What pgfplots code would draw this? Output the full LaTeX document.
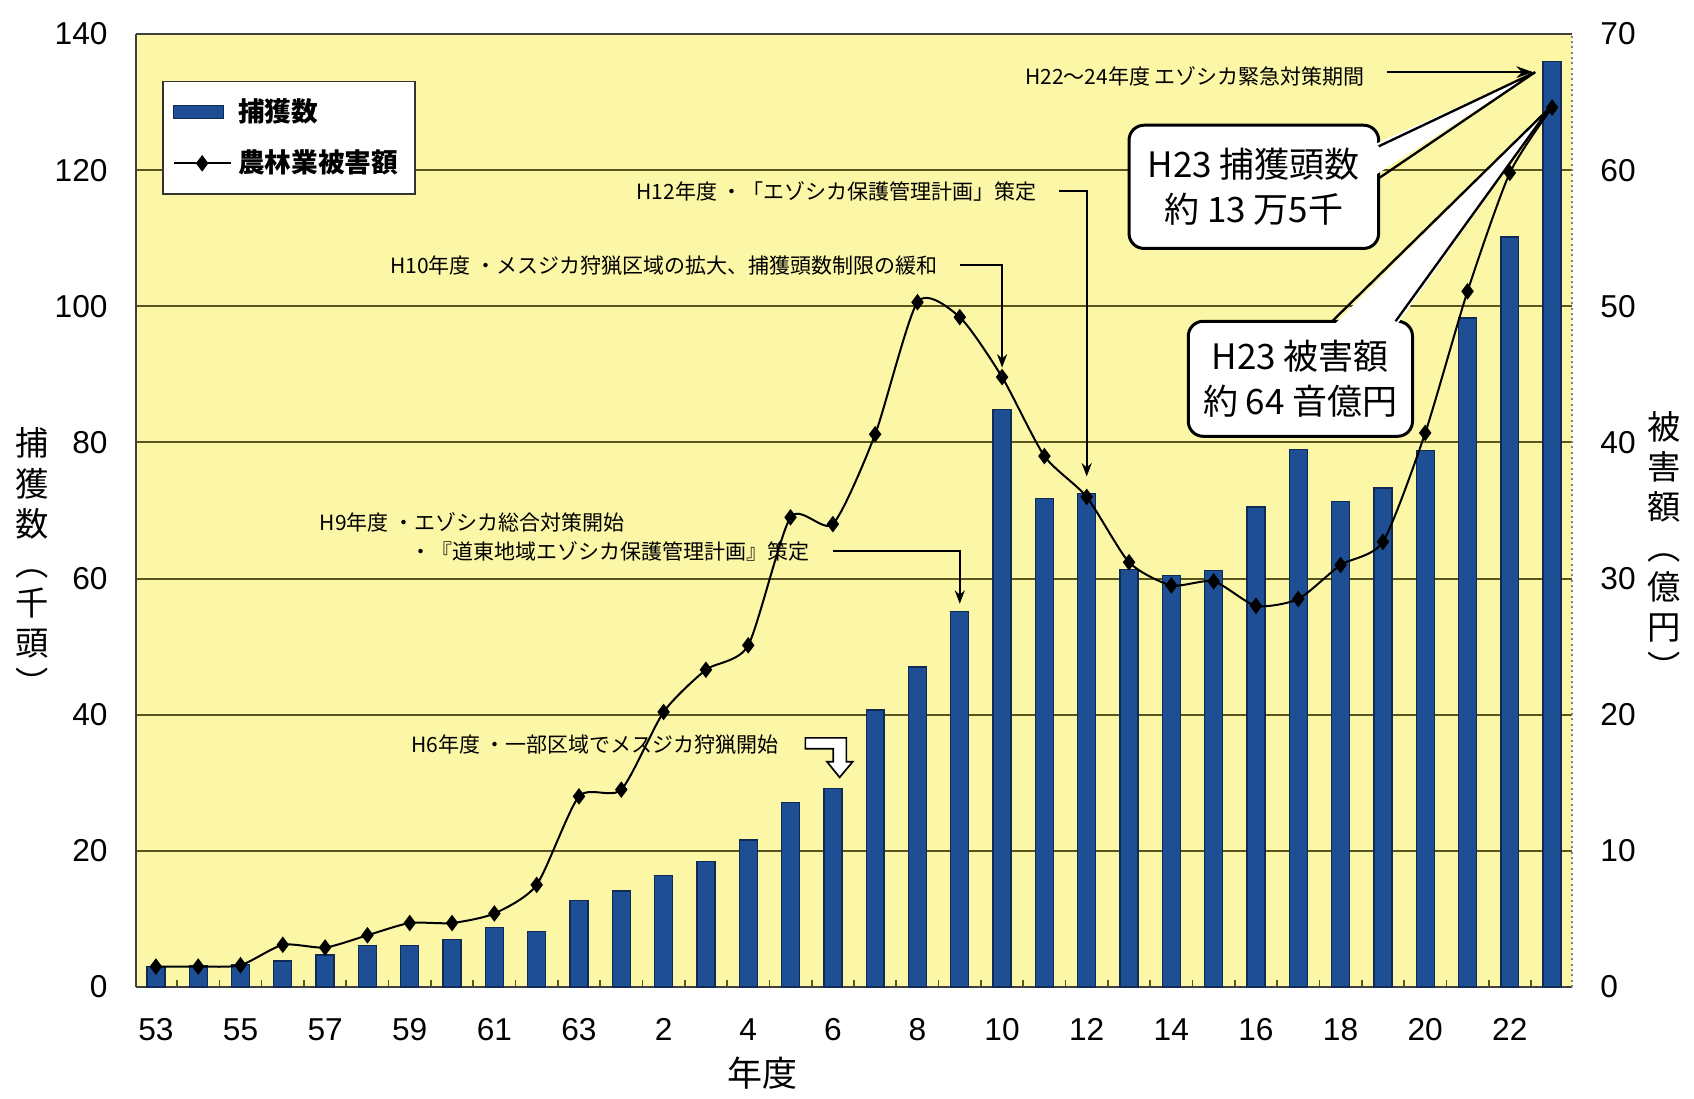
\documentclass[border=0pt]{standalone}
\usepackage{pgfplots}
\pgfplotsset{compat=1.18}
\usepackage{pgfplotstable}
\usepackage{graphicx}
\usepackage{fontspec}
\setmainfont{Liberation Sans}
\newfontfamily\jp{Noto Sans CJK JP}
\usetikzlibrary{arrows.meta}
\definecolor{plotbg}{HTML}{FBF7A6}
\definecolor{gridol}{HTML}{5A551E}
\definecolor{barblue}{HTML}{1E4E93}
\definecolor{baredge}{HTML}{0F2A55}
\newcommand\anfont{\jp\fontsize{6.3}{7.5}\selectfont}
\newcommand\cofont{\jp\fontsize{10.5}{13.5}\selectfont}
\newcommand\vlp{\rotatebox[origin=c]{-90}{（}}
\newcommand\vrp{\rotatebox[origin=c]{-90}{）}}

\pgfplotstableread{
i v d
0 3.0 1.5
1 3.1 1.5
2 3.3 1.6
3 3.8 3.1
4 4.7 2.9
5 6.1 3.8
6 6.1 4.7
7 7.0 4.7
8 8.7 5.4
9 8.2 7.5
10 12.7 14.0
11 14.1 14.5
12 16.4 20.2
13 18.4 23.3
14 21.6 25.1
15 27.1 34.5
16 29.2 34.0
17 40.7 40.6
18 47.0 50.3
19 55.2 49.2
20 84.8 44.8
21 71.8 39.0
22 72.5 36.0
23 61.3 31.2
24 60.5 29.5
25 61.2 29.8
26 70.5 28.0
27 79.0 28.5
28 71.3 31.0
29 73.3 32.7
30 78.8 40.7
31 98.3 51.1
32 110.2 59.8
33 136.0 64.6
}\deerdata

\begin{document}
\begin{tikzpicture}
\useasboundingbox[fill=white] (0,0) rectangle (508.2pt,329.4pt);
\begin{axis}[
  at={(40.8pt,33.3pt)}, anchor=south west,
  scale only axis, width=430.8pt, height=285.9pt,
  xmin=-0.47, xmax=33.47, ymin=0, ymax=140,
  axis background/.style={fill=plotbg},
  axis x line*=box, axis y line*=left,
  axis line style={black!75, line width=0.6pt},
  ytick={0,20,...,140},
  ymajorgrids, grid style={gridol, line width=0.6pt},
  xtick={0,2,...,32},
  xticklabels={53,55,57,59,61,63,2,4,6,8,10,12,14,16,18,20,22},
  minor xtick={0.5,1.5,...,32.5},
  xtick pos=bottom, ytick pos=left,
  major tick length=0pt, minor tick length=2.2pt, tick align=inside,
  minor tick style={gridol, line width=0.5pt},
  tick label style={font=\fontsize{9.5}{11}\selectfont},
  /pgf/number format/assume math mode=true,
  yticklabel style={xshift=-5pt},
  xticklabel style={yshift=-6pt},
  legend style={at={(0.018,0.951)}, anchor=north west, draw=black!80, fill=white,
    line width=0.5pt, font=\jp\bfseries\fontsize{8}{9.6}\selectfont,
    row sep=3pt, inner sep=3pt},
  legend cell align=left,
  clip=false,
]
\addplot[ybar, bar width=0.425, fill=barblue, draw=baredge, line width=0.4pt,
  legend image code/.code={\draw[fill=barblue,draw=baredge] (0pt,-2pt) rectangle (15pt,2pt);}]
  table[x=i,y=v]{\deerdata};
\addlegendentry{捕獲数}
\addlegendimage{black, line width=0.6pt, mark=diamond*, mark size=2pt}
\addlegendentry{農林業被害額}

% annotations (left-axis units)
\node[anchor=east, font=\anfont] at (axis cs:21.1,116.9) {H12年度 ・「エゾシカ保護管理計画」策定};
\draw[line width=0.6pt, -{Stealth[length=4pt,width=3pt]}] (axis cs:21.35,116.9) -- (axis cs:22,116.9) -- (axis cs:22,75);
\node[anchor=east, font=\anfont] at (axis cs:18.75,106) {H10年度 ・メスジカ狩猟区域の拡大、捕獲頭数制限の緩和};
\draw[line width=0.6pt, -{Stealth[length=4pt,width=3pt]}] (axis cs:19.0,106) -- (axis cs:20,106) -- (axis cs:20,91);
\node[anchor=west, font=\anfont] at (axis cs:3.6,68.3) {H9年度 ・エゾシカ総合対策開始};
\node[anchor=west, font=\anfont] at (axis cs:5.75,64) {・『道東地域エゾシカ保護管理計画』策定};
\draw[line width=0.6pt, -{Stealth[length=4pt,width=3pt]}] (axis cs:16.0,64) -- (axis cs:19,64) -- (axis cs:19,56.3);
\node[anchor=east, font=\anfont] at (axis cs:15.0,35.6) {H6年度 ・一部区域でメスジカ狩猟開始};
\draw[fill=white, draw=black, line width=0.5pt]
  (axis cs:15.35,36.6) -- (axis cs:16.32,36.6) -- (axis cs:16.32,33.1) -- (axis cs:16.47,33.1)
  -- (axis cs:16.16,30.8) -- (axis cs:15.86,33.1) -- (axis cs:16.01,33.1) -- (axis cs:16.01,35.0)
  -- (axis cs:15.35,35.0) -- cycle;
\end{axis}

\begin{axis}[
  at={(40.8pt,33.3pt)}, anchor=south west,
  scale only axis, width=430.8pt, height=285.9pt,
  xmin=-0.47, xmax=33.47, ymin=0, ymax=70,
  axis x line=none, axis y line*=right,
  axis line style={black!50, densely dotted, line width=0.6pt},
  ytick={0,10,...,70}, major tick length=0pt,
  tick label style={font=\fontsize{9.5}{11}\selectfont},
  /pgf/number format/assume math mode=true,
  yticklabel style={xshift=5pt},
  clip=false,
]
\addplot[black, line width=0.6pt, smooth, tension=0.4, mark=diamond*, mark size=2pt,
  mark options={solid, fill=black}] table[x=i,y=d]{\deerdata};

% H22-24 arrow
\node[anchor=east, font=\anfont] at (axis cs:28.85,66.9) {H22〜24年度 エゾシカ緊急対策期間};
\draw[line width=0.7pt, -{Stealth[length=5pt,width=3.5pt]}] (axis cs:29.1,67.2) -- (axis cs:32.55,67.2);

% callout 2
\draw[fill=white, draw=black, line width=0.9pt, rounded corners=4.5pt] (axis cs:24.4,40.45) rectangle (axis cs:29.7,48.9);
\fill[white] (axis cs:27.8,48.5) -- (axis cs:32.95,64.6) -- (axis cs:29.3,48.5) -- cycle;
\draw[line width=0.7pt] (axis cs:27.8,48.9) -- (axis cs:32.95,64.6) -- (axis cs:29.3,48.9);
\node[font=\cofont, align=center] at (axis cs:27.05,44.7) {H23 被害額\\約 64 音億円};

% callout 1
\draw[fill=white, draw=black, line width=0.9pt, rounded corners=4.5pt] (axis cs:23.0,54.25) rectangle (axis cs:28.9,63.3);
\fill[white] (axis cs:28.7,61.75) -- (axis cs:32.6,67.2) -- (axis cs:28.7,59.4) -- cycle;
\draw[line width=0.7pt] (axis cs:28.9,61.75) -- (axis cs:32.6,67.2) -- (axis cs:28.9,59.4);
\node[font=\cofont, align=center] at (axis cs:25.95,58.8) {H23 捕獲頭数\\約 13 万5千};
\end{axis}

% axis titles
\node[font=\jp\fontsize{10}{12}\selectfont, align=center] at (9.7pt,160.2pt) {捕\\獲\\数\\\vlp\\千\\頭\\\vrp};
\node[font=\jp\fontsize{10}{12}\selectfont, align=center] at (499.2pt,165pt) {被\\害\\額\\\vlp\\億\\円\\\vrp};
\node[font=\jp\fontsize{10.5}{12}\selectfont] at (228.6pt,7.5pt) {年度};
\end{tikzpicture}
\end{document}
